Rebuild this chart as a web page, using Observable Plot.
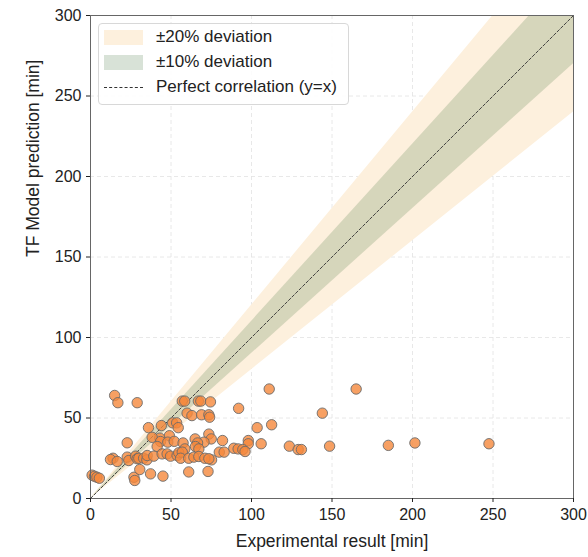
<!DOCTYPE html>
<html>
<head>
<meta charset="utf-8">
<script src="https://cdn.jsdelivr.net/npm/d3@7"></script>
<script src="https://cdn.jsdelivr.net/npm/@observablehq/plot@0.6"></script>
<style>
  html, body { margin: 0; padding: 0; background: #fff; }
  #wrap { position: relative; width: 588px; height: 557px; font-family: "Liberation Sans", Arial, Helvetica, sans-serif; }
  #legend { position: absolute; left: 98px; top: 23px; width: 251px; height: 82px; box-sizing: border-box;
            border: 1px solid #d8d8d8; border-radius: 4px; background: rgba(255,255,255,0.85); font-size: 17px; color: #222; }
  .item { position: absolute; left: 5px; height: 20px; display: flex; align-items: center; white-space: nowrap; }
  .sw { width: 39px; height: 15px; margin-right: 13px; }
  .ln { width: 39px; height: 0; border-top: 1px dashed #333; margin-right: 13px; }
</style>
</head>
<body>
<div id="wrap"></div>
<script>
// ---- data ----
const experimental = [15,17,29,57,58.5,67,68.5,74.5,111,165,92,144,60,63,69,73.5,74,51,53.5,54.5,44,36,103.5,112.5,49,43,73.5,75,70.5,82,98,98,106,22.8,38.3,43.5,48,52,57.5,65,66.5,41.4,58.6,65.2,67.3,89,91.7,94.6,96,80,83,123.5,129,131,148.5,185,201.5,247.5,75.2,73,61,37.3,45,27,27.5,30.6,14,12.4,16.6,22.8,23.8,28,29,30,33,35,35.2,39.3,44.5,47.6,49.7,53.8,54.8,57,56,61,64.2,67.3,71,73.5,1,2.5,4,5.5];
const predicted    = [64,59.5,59.5,60.5,60.5,60.5,60.5,60,68,68,56,53,53,51.5,52,52,50.5,47,47,44,45.3,44,44,45.8,39,37.5,40,37,35,36,36,34,34,34.6,38,35.4,35,35.5,34.5,37,34.5,32.3,30.8,32.3,30.8,31.2,30.8,30.4,29.2,28.8,28.8,32.5,30.4,30.4,32.5,33,34.5,34,24,16.8,16.5,15.3,13.9,13.2,11.2,18,25,24.2,23,25.7,23.6,26.3,24.7,25,25,24,26.7,26.3,27.7,27.7,26.3,26.7,28.4,28.8,25,25,25.7,26.1,25,24.7,14.5,13.8,13.2,12.6];
const tickValues = [0,50,100,150,200,250,300];
const axisRange = [0,300];
const legendLabels = ["±20% deviation", "±10% deviation", "Perfect correlation (y=x)"];
const band20 = 0.2, band10 = 0.1;

const points = experimental.map((x,i) => ({x, y: predicted[i]}));
const diag = axisRange.map(v => ({x: v}));

const chart = Plot.plot({
  width: 588, height: 557,
  marginLeft: 90, marginRight: 15, marginTop: 15, marginBottom: 59,
  style: { fontFamily: '"Liberation Sans", Arial, Helvetica, sans-serif', fontSize: "16px", color: "#222", background: "#fff" },
  x: { domain: axisRange, ticks: tickValues },
  y: { domain: axisRange, ticks: tickValues },
  marks: [
    Plot.gridX(tickValues, { stroke: "#e2e2e2", strokeOpacity: 1, strokeDasharray: "4,3", strokeWidth: 0.8 }),
    Plot.gridY(tickValues, { stroke: "#e2e2e2", strokeOpacity: 1, strokeDasharray: "4,3", strokeWidth: 0.8 }),
    Plot.areaY(diag, { x: "x", y1: d => d.x * (1 - band20), y2: d => d.x * (1 + band20), fill: "#fdf0dd", clip: true }),
    Plot.areaY(diag, { x: "x", y1: d => d.x * (1 - band10), y2: d => d.x * (1 + band10), fill: "#3a6e35", fillOpacity: 0.2, clip: true }),
    Plot.line(diag, { x: "x", y: "x", stroke: "#333", strokeWidth: 0.9, strokeDasharray: "3,2", clip: true }),
    Plot.dot(points, { x: "x", y: "y", r: 5.2, fill: "#f5883c", fillOpacity: 0.8, stroke: "#6b6b6b", strokeWidth: 0.9 }),
    Plot.frame({ stroke: "#666", strokeWidth: 1 }),
    Plot.axisX(tickValues, { tickSize: 4, tickPadding: 6, fontSize: 16, label: null }),
    Plot.axisY(tickValues, { tickSize: 4, tickPadding: 5, fontSize: 16, label: null }),
    Plot.text(["Experimental result [min]"], { frameAnchor: "bottom", dy: 48, fontSize: 17.5, fill: "#222" }),
    Plot.text(["TF Model prediction [min]"], { frameAnchor: "left", dx: -57, rotate: -90, fontSize: 17.5, fill: "#222" })
  ]
});

const wrap = document.getElementById("wrap");
wrap.appendChild(chart);

const legend = document.createElement("div");
legend.id = "legend";
const swatches = [
  { top: 3, html: '<div class="sw" style="background:#fdf0dd"></div>' },
  { top: 28, html: '<div class="sw" style="background:rgba(58,110,53,0.2)"></div>' },
  { top: 53, html: '<div class="ln"></div>' }
];
legendLabels.forEach((lab, i) => {
  const it = document.createElement("div");
  it.className = "item";
  it.style.top = swatches[i].top + "px";
  it.innerHTML = swatches[i].html + "<span>" + lab + "</span>";
  legend.appendChild(it);
});
wrap.appendChild(legend);
</script>
</body>
</html>
